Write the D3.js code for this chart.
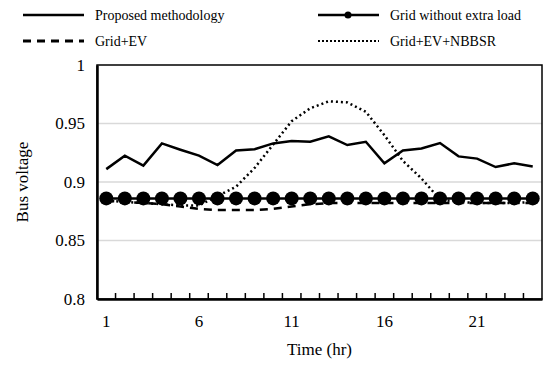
<!DOCTYPE html>
<html>
<head>
<meta charset="utf-8">
<script src="https://cdn.jsdelivr.net/npm/d3@7"></script>
<style>
  body { margin: 0; background: #fff; }
</style>
</head>
<body>
<div id="chart"></div>
<script>
// hours 1..24
var hours = d3.range(1, 25);
var proposed = [0.911, 0.9225, 0.914, 0.933, 0.9276, 0.9225, 0.9145, 0.927, 0.928, 0.933, 0.935, 0.9344,
                0.939, 0.9316, 0.9344, 0.916, 0.927, 0.9287, 0.9333, 0.9219, 0.920, 0.9128, 0.916, 0.9133];
var gridOnly = [0.886, 0.886, 0.886, 0.886, 0.886, 0.886, 0.886, 0.886, 0.886, 0.886, 0.886, 0.886,
                0.886, 0.886, 0.886, 0.886, 0.886, 0.886, 0.886, 0.886, 0.886, 0.886, 0.886, 0.886];
var gridEV = [0.884, 0.883, 0.882, 0.881, 0.879, 0.877, 0.876, 0.876, 0.876, 0.877, 0.879, 0.881,
              0.882, 0.882, 0.882, 0.882, 0.882, 0.882, 0.882, 0.882, 0.882, 0.882, 0.882, 0.882];
var gridEVNBBSR = [0.884, 0.883, 0.882, 0.881, 0.880, 0.880, 0.888, 0.896, 0.912, 0.932, 0.952, 0.963,
                   0.969, 0.968, 0.960, 0.940, 0.918, 0.903, 0.885, 0.883, 0.882, 0.882, 0.882, 0.883];
var yTicks = [0.8, 0.85, 0.9, 0.95, 1];
var xTickLabels = [1, 6, 11, 16, 21];

var FONT = "'Liberation Serif', 'Times New Roman', serif";
var width = 551, height = 365;
var margin = {top: 65, right: 9, bottom: 66, left: 97};
var w = width - margin.left - margin.right;
var h = height - margin.top - margin.bottom;

var svg = d3.select("#chart").append("svg")
    .attr("width", width)
    .attr("height", height);

var g = svg.append("g")
    .attr("transform", "translate(" + margin.left + "," + margin.top + ")");

var x = d3.scaleBand().domain(hours).range([0, w]);
var y = d3.scaleLinear().domain([0.8, 1]).range([h, 0]);
var cx = function (d) { return x(d) + x.bandwidth() / 2; };

// gridlines
g.selectAll(".grid")
    .data(yTicks.filter(function (d) { return d > 0.8 && d < 1; }))
    .enter().append("line")
    .attr("x1", 0).attr("x2", w)
    .attr("y1", function (d) { return y(d); })
    .attr("y2", function (d) { return y(d); })
    .attr("stroke", "#d9d9d9")
    .attr("stroke-width", 1.5);

// frame
g.append("rect")
    .attr("width", w).attr("height", h)
    .attr("fill", "none")
    .attr("stroke", "#000")
    .attr("stroke-width", 1.5);

// y axis
var yAxis = g.append("g")
    .call(d3.axisLeft(y).tickValues(yTicks).tickSize(0).tickPadding(12)
        .tickFormat(function (d) { return String(+d.toFixed(2)); }));
yAxis.select(".domain").attr("stroke", "#000").attr("stroke-width", 2.5);
yAxis.selectAll("text").attr("font-size", 17).style("font-family", FONT).attr("fill", "#000");

// x axis: inner ticks at band boundaries
var xAxis = g.append("g")
    .attr("transform", "translate(0," + h + ")")
    .call(d3.axisBottom(x).tickSize(0).tickPadding(16)
        .tickFormat(function (d) { return xTickLabels.indexOf(d) >= 0 ? d : ""; }));
xAxis.select(".domain").attr("stroke", "#000").attr("stroke-width", 2.5);
xAxis.selectAll("text").attr("font-size", 17).style("font-family", FONT).attr("fill", "#000");

g.selectAll(".xtick")
    .data(hours.slice(1))
    .enter().append("line")
    .attr("x1", function (d) { return x(d); })
    .attr("x2", function (d) { return x(d); })
    .attr("y1", h).attr("y2", h - 6)
    .attr("stroke", "#000")
    .attr("stroke-width", 1.5);

var line = function (vals) {
    return d3.line()
        .x(function (d, i) { return cx(hours[i]); })
        .y(function (d) { return y(d); })(vals);
};

g.append("path").attr("d", line(gridEV))
    .attr("fill", "none").attr("stroke", "#000").attr("stroke-width", 2.5)
    .attr("stroke-dasharray", "8,6");

g.append("path").attr("d", line(gridEVNBBSR))
    .attr("fill", "none").attr("stroke", "#000").attr("stroke-width", 2.5)
    .attr("stroke-dasharray", "2,3");

g.append("path").attr("d", line(gridOnly))
    .attr("fill", "none").attr("stroke", "#000").attr("stroke-width", 2.5);

g.selectAll(".dot")
    .data(gridOnly)
    .enter().append("circle")
    .attr("cx", function (d, i) { return cx(hours[i]); })
    .attr("cy", function (d) { return y(d); })
    .attr("r", 7)
    .attr("fill", "#000");

g.append("path").attr("d", line(proposed))
    .attr("fill", "none").attr("stroke", "#000").attr("stroke-width", 2.5);

// axis titles
svg.append("text")
    .attr("x", margin.left + w / 2).attr("y", 355)
    .attr("text-anchor", "middle")
    .attr("font-size", 17)
    .style("font-family", FONT)
    .text("Time (hr)");

svg.append("text")
    .attr("transform", "translate(28," + (margin.top + h / 2) + ") rotate(-90)")
    .attr("text-anchor", "middle")
    .attr("font-size", 17)
    .style("font-family", FONT)
    .text("Bus voltage");

// legend
var legend = [
    {name: "Proposed methodology", x: 23, y: 15, dash: null, w: 2.5, marker: false},
    {name: "Grid without extra load", x: 318, y: 15, dash: null, w: 2.5, marker: true},
    {name: "Grid+EV", x: 23, y: 41, dash: "8,6", w: 3, marker: false},
    {name: "Grid+EV+NBBSR", x: 318, y: 41, dash: "2,2", w: 2, marker: false}
];
var lg = svg.selectAll(".legend")
    .data(legend)
    .enter().append("g")
    .attr("transform", function (d) { return "translate(" + d.x + "," + d.y + ")"; });
lg.append("line")
    .attr("x1", 0).attr("x2", 61)
    .attr("stroke", "#000")
    .attr("stroke-width", function (d) { return d.w; })
    .attr("stroke-dasharray", function (d) { return d.dash; });
lg.filter(function (d) { return d.marker; }).append("circle")
    .attr("cx", 30).attr("r", 3.5).attr("fill", "#000");
lg.append("text")
    .attr("x", 72).attr("dy", "0.35em")
    .attr("font-size", 14)
    .style("font-family", FONT)
    .text(function (d) { return d.name; });
</script>
</body>
</html>
